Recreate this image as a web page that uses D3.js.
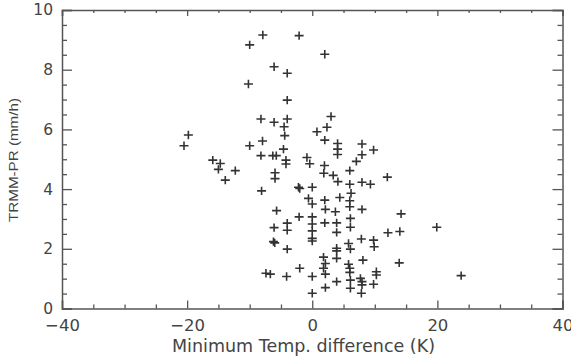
<!DOCTYPE html>
<html>
<head>
<meta charset="utf-8">
<script src="https://cdn.jsdelivr.net/npm/d3@7"></script>
<style>
  html, body { margin: 0; padding: 0; background: #fff; }
  svg { display: block; }
  .tick text { font-family: "DejaVu Sans", sans-serif; fill: #444; }
</style>
</head>
<body>
<svg id="chart" width="571" height="360"></svg>
<script>
// Temperature difference (K) for each observation
const tempDiff = [
  -7.9, -2.1, -10.0, 2.0, -6.1, -4.0, -10.2, -4.0, -8.2, -6.1, -4.0, -4.5, 3.0, 2.35,
  0.75, -4.4, 2.0, -7.95, -10.0, -4.6, 4.05, 4.05, 4.05, 7.95, 9.8, 7.95, -8.2, -6.3, -5.75, -19.8, -20.5, -0.85,
  -4.2, -4.2, -0.4, 1.95, 1.85, 3.35, 7.05, 6.0, -15.9, -14.7, -15.0, -12.3, -5.95, -5.95, 12.0, -13.9, 4.1, 6.0, 7.95, 9.3, -2.2, -2.0, 0.0,
  -8.1, -0.6, 0.0, 2.0, 4.4, 6.2, 6.0, 6.0, 2.1, 3.7, 7.95, -5.7, -2.1, 0.0, 6.1, 14.2,
  0.0, 2.0, 3.9, 6.1, -6.1, -4.0, -4.0, 0.0, 0.0, 0.0, 3.9, 7.85, 9.8, 9.9, 12.1, 14.0, 19.9, -6.2, -6.0,
  -4.0, 3.9, 3.9, 5.8, 6.1, 1.8, 2.1, 1.8, 2.1, 3.9, 8.1, 13.9, -2.0, 0.0, 5.8, 6.0, 6.0, 10.25, 10.25, -7.4, -6.7, -4.1, 23.8, 7.7,
  3.9, 6.1, 6.1, 7.95, 7.95, 7.85, 9.8, 0.0, 2.1
];
// TRMM-PR rain rate (mm/h) for each observation
const rainRate = [
  9.16, 9.14, 8.83, 8.52, 8.10, 7.88, 7.52, 6.98, 6.35, 6.24, 6.35, 6.09, 6.43, 6.07,
  5.92, 5.79, 5.64, 5.61, 5.45, 5.34, 5.53, 5.34, 5.16, 5.51, 5.31, 5.15, 5.12, 5.12, 5.12, 5.81, 5.45, 5.06,
  4.97, 4.84, 4.85, 4.79, 4.53, 4.46, 4.93, 4.62, 4.97, 4.86, 4.66, 4.62, 4.55, 4.35, 4.40, 4.30, 4.25, 4.16, 4.23, 4.16, 4.06, 4.02, 4.06,
  3.94, 3.69, 3.50, 3.63, 3.72, 3.86, 3.61, 3.41, 3.32, 3.24, 3.32, 3.28, 3.07, 3.07, 3.02, 3.17,
  2.83, 2.87, 2.87, 2.72, 2.71, 2.86, 2.62, 2.60, 2.35, 2.26, 2.55, 2.33, 2.29, 2.07, 2.54, 2.58, 2.72, 2.24, 2.20,
  1.99, 2.02, 1.93, 2.18, 1.99, 1.72, 1.51, 1.35, 1.15, 1.68, 1.62, 1.53, 1.35, 1.07, 1.48, 1.35, 1.21, 1.23, 1.12, 1.18, 1.15, 1.07, 1.10, 1.01,
  0.90, 0.95, 0.68, 0.90, 0.79, 0.51, 0.81, 0.51, 0.70
];
const xMajorTicks = [-40, -20, 0, 20, 40];
const yMajorTicks = [0, 2, 4, 6, 8, 10];
const xLabel = "Minimum Temp. difference (K)";
const yLabel = "TRMM-PR (mm/h)";

const svg = d3.select("#chart");
const plotLeft = 62, plotRight = 562.5, plotTop = 10, plotBottom = 308.5;
const x = d3.scaleLinear().domain([-40, 40]).range([plotLeft, plotRight]);
const y = d3.scaleLinear().domain([0, 10]).range([plotBottom, plotTop]);

const axisColor = "#555";
const minorX = d3.range(-40, 40.01, 5).filter(v => v % 20 !== 0);
const minorY = d3.range(0, 10.01, 0.5).filter(v => v % 2 !== 0);
const fmt = d => (d < 0 ? "\u2212" + Math.abs(d) : String(d));

function styleAxis(g) {
  g.select(".domain").attr("stroke", axisColor).attr("stroke-width", 1.5);
  g.selectAll(".tick line").attr("stroke", axisColor).attr("stroke-width", 1.3);
}

// bottom axis: labelled majors, inward ticks
svg.append("g").attr("transform", `translate(0,${plotBottom})`)
  .call(d3.axisBottom(x).tickValues(xMajorTicks).tickSize(-8).tickPadding(8).tickFormat(fmt))
  .call(styleAxis)
  .call(g => g.selectAll("text").attr("font-size", 16.5).attr("dy", "0.9em"));
svg.append("g").attr("transform", `translate(0,${plotBottom})`)
  .call(d3.axisBottom(x).tickValues(minorX).tickSize(-4).tickFormat(""))
  .call(styleAxis).call(g => g.select(".domain").remove());

// top axis
svg.append("g").attr("transform", `translate(0,${plotTop})`)
  .call(d3.axisTop(x).tickValues(xMajorTicks).tickSize(-6).tickFormat(""))
  .call(styleAxis);
svg.append("g").attr("transform", `translate(0,${plotTop})`)
  .call(d3.axisTop(x).tickValues(minorX).tickSize(-3).tickFormat(""))
  .call(styleAxis).call(g => g.select(".domain").remove());

// left axis
svg.append("g").attr("transform", `translate(${plotLeft},0)`)
  .call(d3.axisLeft(y).tickValues(yMajorTicks).tickSize(-10).tickPadding(9).tickFormat(fmt))
  .call(styleAxis)
  .call(g => g.selectAll("text").attr("font-size", 15.5));
svg.append("g").attr("transform", `translate(${plotLeft},0)`)
  .call(d3.axisLeft(y).tickValues(minorY).tickSize(-5).tickFormat(""))
  .call(styleAxis).call(g => g.select(".domain").remove());

// right axis
svg.append("g").attr("transform", `translate(${plotRight},0)`)
  .call(d3.axisRight(y).tickValues(yMajorTicks).tickSize(-10).tickFormat(""))
  .call(styleAxis);
svg.append("g").attr("transform", `translate(${plotRight},0)`)
  .call(d3.axisRight(y).tickValues(minorY).tickSize(-5).tickFormat(""))
  .call(styleAxis).call(g => g.select(".domain").remove());

// axis titles
svg.append("text")
  .attr("x", 303.5).attr("y", 352)
  .attr("text-anchor", "middle")
  .attr("font-family", "DejaVu Sans, sans-serif").attr("font-size", 17.5)
  .attr("fill", "#444")
  .text(xLabel);
svg.append("text")
  .attr("transform", `translate(18,160) rotate(-90)`)
  .attr("text-anchor", "middle")
  .attr("font-family", "Liberation Sans Narrow, Liberation Sans, sans-serif").attr("font-size", 12.5)
  .attr("textLength", 124).attr("lengthAdjust", "spacingAndGlyphs")
  .attr("fill", "#444")
  .text(yLabel);

// plus markers
const points = tempDiff.map((t, i) => ({ t, r: rainRate[i] }));
svg.append("g")
  .selectAll("path")
  .data(points)
  .join("path")
  .attr("transform", d => `translate(${x(d.t)},${y(d.r)})`)
  .attr("d", "M-4.5,0H4.5M0,-4.2V4.2")
  .attr("stroke", "#333")
  .attr("stroke-width", 1.6)
  .attr("fill", "none");
</script>
</body>
</html>
